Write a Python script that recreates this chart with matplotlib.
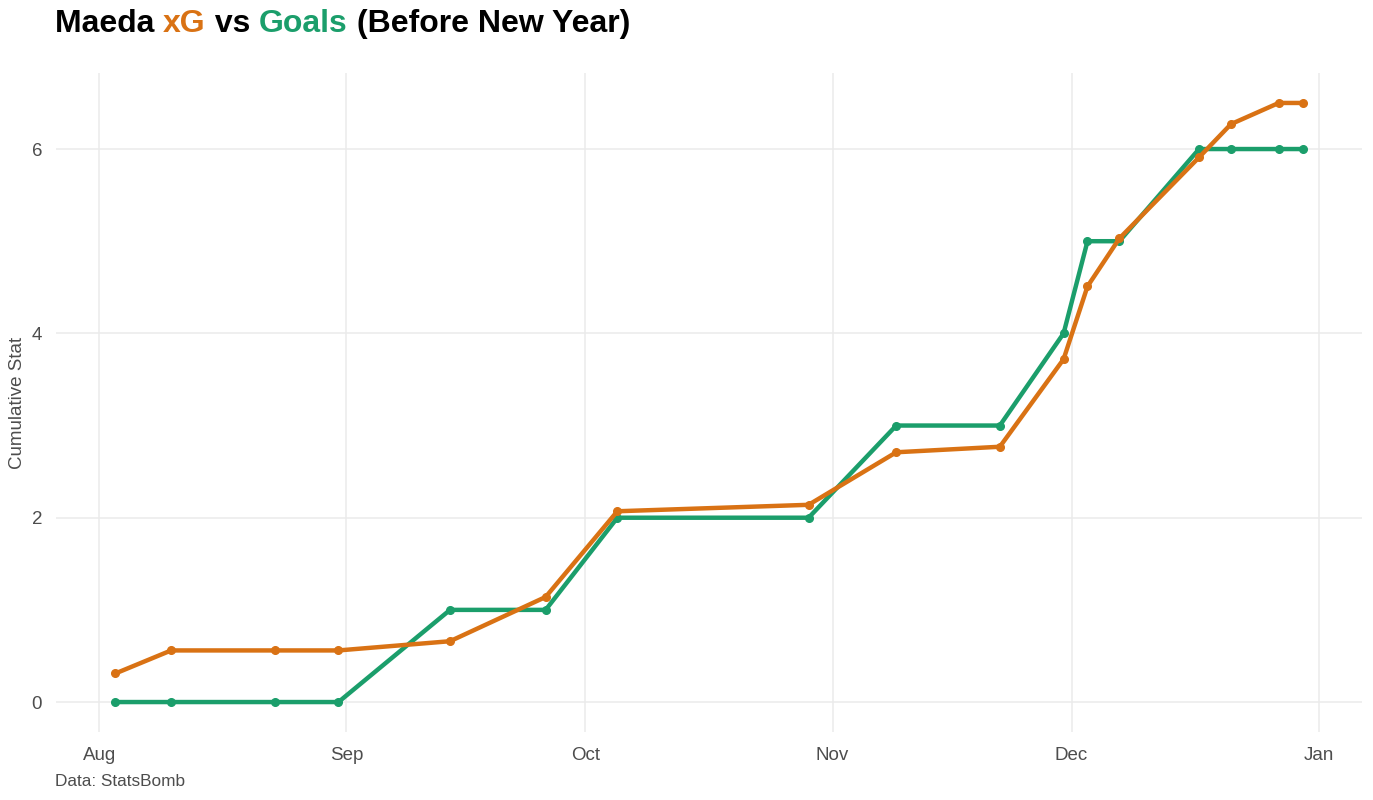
import numpy as np
import pandas as pd
import matplotlib
matplotlib.use("Agg")
import matplotlib.pyplot as plt
import matplotlib.dates as mdates

plt.rcParams['font.family'] = ['Liberation Sans', 'DejaVu Sans']

# match dates and cumulative values
match_dates = ['2023-08-03', '2023-08-10', '2023-08-23', '2023-08-31',
               '2023-09-14', '2023-09-26', '2023-10-05', '2023-10-29',
               '2023-11-09', '2023-11-22', '2023-11-30', '2023-12-03',
               '2023-12-07', '2023-12-17', '2023-12-21', '2023-12-27',
               '2023-12-30']
cum_xg = [0.31, 0.56, 0.56, 0.56, 0.66, 1.14, 2.07, 2.14, 2.71, 2.77,
          3.72, 4.51, 5.03, 5.91, 6.27, 6.50, 6.50]
cum_goals = [0, 0, 0, 0, 1, 1, 2, 2, 3, 3, 4, 5, 5, 6, 6, 6, 6]

xg_col = '#D97214'
goals_col = '#1B9E6B'
grid_col = '#EBEBEB'
text_col = '#4D4D4D'

dates = pd.to_datetime(match_dates)

fig = plt.figure(figsize=(13.73, 8), dpi=100)
ax = fig.add_axes([56 / 1373, 68 / 800, 1306 / 1373, 659 / 800])

ax.plot(dates, cum_goals, color=goals_col, lw=3.2, marker='o', ms=5.5, zorder=3)
ax.plot(dates, cum_xg, color=xg_col, lw=3.2, marker='o', ms=5.5, zorder=4)

# ggplot style 5% expansion
span = dates[-1] - dates[0]
ax.set_xlim(dates[0] - span * 0.05, dates[-1] + span * 0.05)
ax.set_ylim(-0.325, 6.825)

ax.xaxis.set_major_locator(mdates.MonthLocator())
ax.xaxis.set_major_formatter(mdates.DateFormatter('%b'))
ax.set_yticks([0, 2, 4, 6])

for s in ax.spines.values():
    s.set_visible(False)
ax.grid(True, color=grid_col, lw=1.1)
ax.set_axisbelow(True)
ax.tick_params(length=0, labelsize=13.5, colors=text_col)
ax.tick_params(axis='x', pad=11)
ax.tick_params(axis='y', pad=10)
ax.set_ylabel('Cumulative Stat', fontsize=13.5, color=text_col, labelpad=4)

# multi-coloured title, pieces placed one after the other
parts = [('Maeda ', 'black'), ('xG', xg_col), (' vs ', 'black'),
         ('Goals', goals_col), (' (Before New Year)', 'black')]
title_y = 1 - 24 / 800
for txt, col in parts:
    fig.text(0, title_y, txt, fontsize=23, fontweight='bold', color=col,
             va='center', ha='left')
fig.canvas.draw()
renderer = fig.canvas.get_renderer()
x_pos = 55 / 1373
for tx in fig.texts:
    tx.set_x(x_pos)
    x_pos += tx.get_window_extent(renderer).width / fig.bbox.width

fig.text(55 / 1373, 1 - 782 / 800, 'Data: StatsBomb', fontsize=12.4,
         color=text_col, va='center', ha='left')

fig.savefig('out.png', dpi=100, facecolor='white')
